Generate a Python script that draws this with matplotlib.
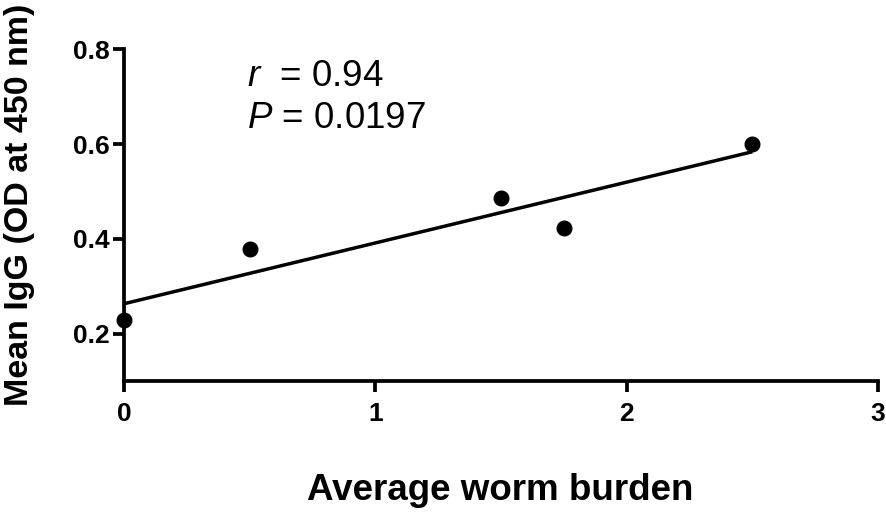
import numpy as np
import matplotlib
matplotlib.use('Agg')
import matplotlib.pyplot as plt

# data
worm_burden = np.array([0.0, 0.5, 1.5, 1.75, 2.5])
mean_igg    = np.array([0.229, 0.379, 0.486, 0.422, 0.601])
x_ticks = [0, 1, 2, 3]
y_ticks = [0.2, 0.4, 0.6, 0.8]

plt.rcParams['font.family'] = ['Liberation Sans', 'DejaVu Sans']
plt.rcParams['mathtext.fontset'] = 'custom'
plt.rcParams['mathtext.it'] = 'Liberation Sans:italic'
plt.rcParams['mathtext.rm'] = 'Liberation Sans'

W, H = 886, 513
fig = plt.figure(figsize=(W / 100, H / 100), dpi=100)
ax = fig.add_axes([124 / W, 1 - 381 / H, (878 - 124) / W, (381 - 49.3) / H])

# linear regression line
slope, intercept = np.polyfit(worm_burden, mean_igg, 1)
xs = np.array([worm_burden.min(), worm_burden.max()])
ax.plot(xs, slope * xs + intercept, color='black', lw=2.5, solid_capstyle='butt', zorder=2)
ax.plot(worm_burden, mean_igg, 'o', color='black', ms=10.5, zorder=3, clip_on=False)

ax.set_xlim(0, 3)
ax.set_ylim(0.1, 0.8)
ax.set_xticks(x_ticks)
ax.set_yticks(y_ticks)
ax.set_xticklabels([str(t) for t in x_ticks], fontweight='bold')
ax.set_yticklabels([f'{t:.1f}' for t in y_ticks], fontweight='bold')

for s in ['top', 'right']:
    ax.spines[s].set_visible(False)
for s in ['left', 'bottom']:
    ax.spines[s].set_linewidth(2.7)
ax.tick_params(width=2.7, length=8, direction='out', labelsize=19)
ax.tick_params(axis='y', pad=2)
ax.tick_params(axis='x', pad=7)

fig.text(500 / W, 1 - 500 / H, 'Average worm burden', fontsize=26.5, fontweight='bold',
         ha='center', va='baseline')
fig.text(20 / W, 1 - 205 / H, 'Mean IgG (OD at 450 nm)', fontsize=24.5, fontweight='bold',
         rotation=90, ha='center', va='center')

ax.text(0.49, 0.722, r'$\mathit{r}$  = 0.94', fontsize=26.5, va='baseline', ha='left')
ax.text(0.49, 0.634, r'$\mathit{P}$ = 0.0197', fontsize=26.5, va='baseline', ha='left')

fig.savefig('out.png', dpi=100)
